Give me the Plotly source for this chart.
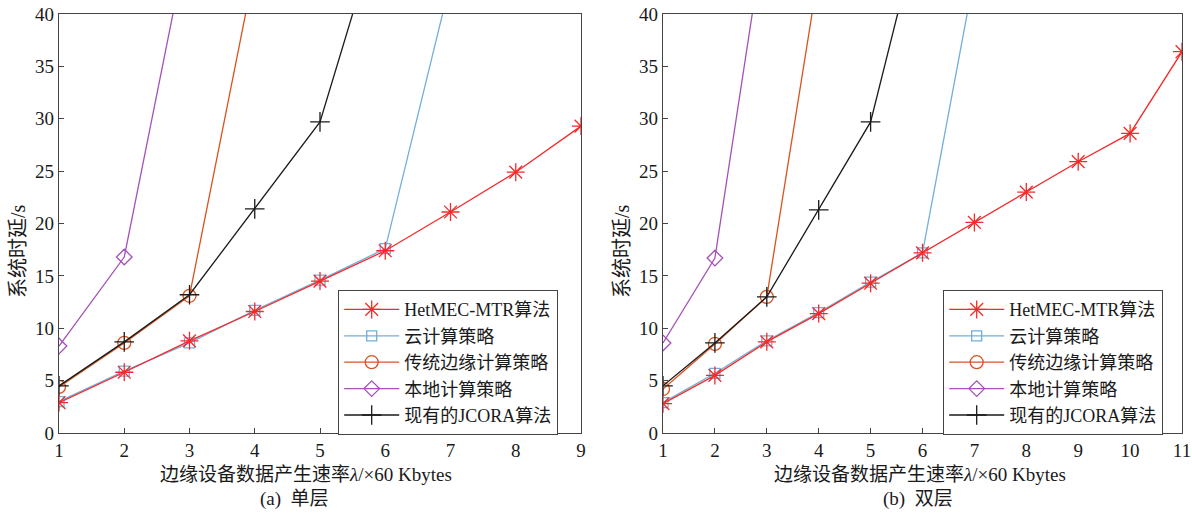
import plotly.graph_objects as go

FONT = "Liberation Serif, Times New Roman, Noto Sans CJK SC, serif"

names = ["HetMEC-MTR算法", "云计算策略", "传统边缘计算策略", "本地计算策略", "现有的JCORA算法"]
colors = ["#f42a2a", "#72afd9", "#d9541c", "#a552b8", "#1a1a1a"]
symbols = ["asterisk-open", "square-open", "circle-open", "diamond-open", "cross-thin-open"]
sizes = [15, 10, 13, 12, 14]

# (a) single layer
a_x_het = [1, 2, 3, 4, 5, 6, 7, 8, 9]
a_y_het = [2.9, 5.8, 8.8, 11.6, 14.5, 17.4, 21.1, 24.9, 29.3]
a_x_cloud = [1, 2, 3, 4, 5, 6, 7]
a_y_cloud = [3.0, 5.9, 8.6, 11.7, 14.6, 17.6, 43.1]
a_x_edge = [1, 2, 3, 4]
a_y_edge = [4.4, 8.6, 13.1, 44.4]
a_x_local = [1, 2, 3]
a_y_local = [8.3, 16.8, 47.9]
a_x_jcora = [1, 2, 3, 4, 5, 6]
a_y_jcora = [4.5, 8.7, 13.2, 21.4, 29.7, 50.3]

# (b) double layer
b_x_het = [1, 2, 3, 4, 5, 6, 7, 8, 9, 10, 11]
b_y_het = [2.8, 5.5, 8.7, 11.4, 14.3, 17.2, 20.1, 23.0, 25.9, 28.6, 36.4]
b_x_cloud = [1, 2, 3, 4, 5, 6, 7]
b_y_cloud = [2.9, 5.7, 8.8, 11.5, 14.4, 17.2, 43.7]
b_x_edge = [1, 2, 3, 4]
b_y_edge = [4.2, 8.5, 13.0, 44.0]
b_x_local = [1, 2, 3]
b_y_local = [8.6, 16.7, 49.1]
b_x_jcora = [1, 2, 3, 4, 5, 6]
b_y_jcora = [4.5, 8.6, 13.0, 21.3, 29.7, 49.5]

x_title = "边缘设备数据产生速率<i>λ</i>/×60 Kbytes"
y_title = "系统时延/s"

fig = go.Figure()

panels = [
    ("x", "y", "legend", [(a_x_het, a_y_het), (a_x_cloud, a_y_cloud), (a_x_edge, a_y_edge),
                          (a_x_local, a_y_local), (a_x_jcora, a_y_jcora)]),
    ("x2", "y2", "legend2", [(b_x_het, b_y_het), (b_x_cloud, b_y_cloud), (b_x_edge, b_y_edge),
                             (b_x_local, b_y_local), (b_x_jcora, b_y_jcora)]),
]

order = [1, 2, 3, 4, 0]
for xa, ya, lg, series in panels:
    for i in order:
        xs, ys = series[i]
        fig.add_trace(go.Scatter(
            x=xs, y=ys, name=names[i], mode="lines+markers",
            line=dict(color=colors[i], width=1.3),
            marker=dict(symbol=symbols[i], size=sizes[i], color=colors[i],
                        line=dict(color=colors[i], width=1.3)),
            xaxis=xa, yaxis=ya, legend=lg, legendrank=i + 1,
        ))

axis_common = dict(
    showgrid=False, zeroline=False, showline=True, linecolor="#444", linewidth=1.2,
    mirror=True, ticks="inside", ticklen=5, tickcolor="#444",
    tickfont=dict(family=FONT, size=19, color="#1a1a1a"),
    ticklabeloverflow="allow",
)

leg_common = dict(bordercolor="#444", borderwidth=1.2, bgcolor="white",
                  font=dict(family=FONT, size=18, color="#1a1a1a"), tracegroupgap=0,
                  itemwidth=55, xanchor="left", yanchor="top")

fig.update_layout(
    width=1192, height=513,
    margin=dict(l=0, r=0, t=0, b=0, autoexpand=False),
    paper_bgcolor="white", plot_bgcolor="white",
    font=dict(family=FONT, size=18, color="#1a1a1a"),
    showlegend=True,
    xaxis=dict(domain=[59 / 1192, 581 / 1192], range=[1, 9], dtick=1, anchor="y", **axis_common),
    yaxis=dict(domain=[80 / 513, 499 / 513], range=[0, 40], dtick=5, anchor="x", **axis_common),
    xaxis2=dict(domain=[663 / 1192, 1182 / 1192], range=[1, 11], dtick=1, anchor="y2", **axis_common),
    yaxis2=dict(domain=[80 / 513, 499 / 513], range=[0, 40], dtick=5, anchor="x2", **axis_common),
    legend=dict(x=338 / 1192, y=(513 - 290) / 513, **leg_common),
    legend2=dict(x=943 / 1192, y=(513 - 290) / 513, **leg_common),
)

ann = [
    dict(text=x_title, x=306 / 1192, y=(513 - 474) / 513),
    dict(text="(a)  单层", x=294 / 1192, y=(513 - 499) / 513),
    dict(text=x_title, x=920 / 1192, y=(513 - 474) / 513),
    dict(text="(b)  双层", x=918 / 1192, y=(513 - 499) / 513),
]
for a in ann:
    fig.add_annotation(xref="paper", yref="paper", showarrow=False,
                       xanchor="center", yanchor="middle",
                       font=dict(family=FONT, size=19, color="#1a1a1a"), **a)
for xp in [18, 622]:
    fig.add_annotation(text=y_title, xref="paper", yref="paper", showarrow=False,
                       x=xp / 1192, y=(513 - 251) / 513, textangle=-90,
                       xanchor="center", yanchor="middle",
                       font=dict(family=FONT, size=20, color="#1a1a1a"))

fig.write_html("out.html")
